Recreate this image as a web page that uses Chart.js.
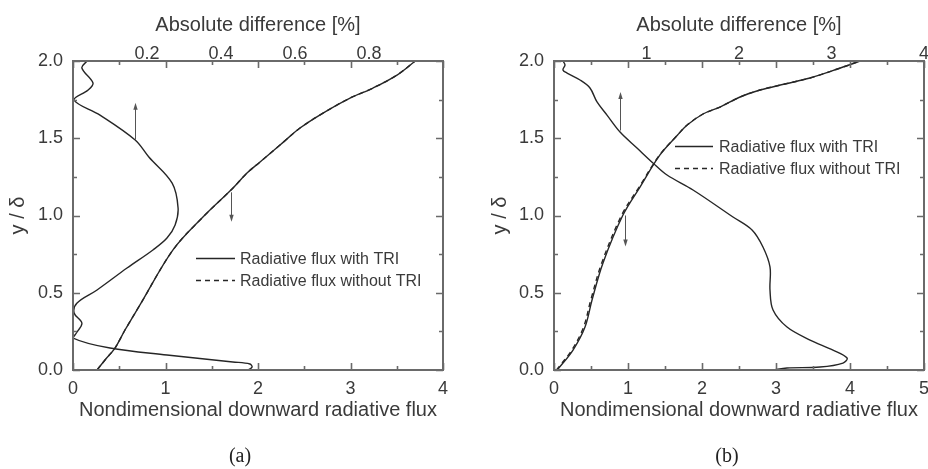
<!DOCTYPE html>
<html>
<head>
<meta charset="utf-8">
<script src="https://cdn.jsdelivr.net/npm/chart.js@4.4.1/dist/chart.umd.min.js"></script>
<style>
  html, body { margin: 0; padding: 0; background: #fff; }
  #wrap { position: relative; width: 928px; height: 469px; overflow: hidden; }
  canvas { position: absolute; top: 0; }
</style>
</head>
<body>
<div id="wrap">
  <canvas id="chartA" width="464" height="469" style="left:0"></canvas>
  <canvas id="chartB" width="464" height="469" style="left:464px"></canvas>
</div>
<script>
  // ---- panel (a) ----
  const fluxA_y = [0.0, 0.065, 0.142, 0.259, 0.421, 0.777, 0.990, 1.178, 1.275, 1.346, 1.456, 1.566,
    1.663, 1.760, 1.825, 1.909, 2.0];
  const fluxA_with = [0.26, 0.346, 0.454, 0.562, 0.724, 1.081, 1.405, 1.730, 1.881, 2.022, 2.238, 2.454,
    2.703, 2.995, 3.243, 3.503, 3.70];
  const fluxA_without = [0.26, 0.346, 0.454, 0.562, 0.724, 1.081, 1.405, 1.730, 1.881, 2.022, 2.238, 2.454,
    2.703, 2.995, 3.243, 3.503, 3.70];

  const diffA_y = [2.0, 1.955, 1.858, 1.812, 1.748, 1.650, 1.489, 1.379, 1.210, 1.049, 0.939,
    0.854, 0.777, 0.660, 0.518, 0.434, 0.369, 0.304, 0.246, 0.207, 0.142, 0.097, 0.052, 0.039, 0.019, 0.0];
  const diffA_pct = [0.038, 0.024, 0.054, 0.041, 0.003, 0.073, 0.168, 0.205, 0.268, 0.284, 0.276,
    0.254, 0.216, 0.146, 0.065, 0.011, 0.003, 0.024, 0.011, 0.0, 0.100, 0.254, 0.432, 0.478, 0.484, 0.473];

  // ---- panel (b) ----
  const fluxB_y = [0.0, 0.006, 0.129, 0.278, 0.453, 0.693, 1.003, 1.184, 1.392, 1.521, 1.586, 1.657,
    1.702, 1.767, 1.812, 1.851, 1.890, 1.948, 2.0];
  const fluxB_with = [0.04, 0.054, 0.257, 0.419, 0.514, 0.662, 0.932, 1.162, 1.432, 1.67, 1.80, 2.014,
    2.243, 2.514, 2.784, 3.12, 3.459, 3.83, 4.135];
  const fluxB_without = [0.03, 0.042, 0.240, 0.400, 0.497, 0.645, 0.915, 1.150, 1.428, 1.67, 1.80, 2.014,
    2.243, 2.514, 2.784, 3.12, 3.459, 3.83, 4.135];

  const diffB_y = [2.0, 1.974, 1.942, 1.922, 1.877, 1.825, 1.735, 1.650, 1.540, 1.437, 1.340, 1.262, 1.165,
    0.990, 0.906, 0.796, 0.667, 0.518, 0.388, 0.278, 0.194, 0.129, 0.078, 0.045, 0.019, 0.013, 0.0];
  const diffB_pct = [0.097, 0.119, 0.097, 0.141, 0.281, 0.389, 0.465, 0.573, 0.714, 0.897, 1.070, 1.222, 1.503,
    1.935, 2.141, 2.259, 2.335, 2.335, 2.368, 2.519, 2.768, 3.016, 3.168, 3.124, 2.876, 2.519, 2.368];

  // ---- ticks ----
  const yTicks = [0, 0.5, 1.0, 1.5, 2.0];
  const yTickLabels = ["0.0", "0.5", "1.0", "1.5", "2.0"];
  const bottomTicksA = [0, 1, 2, 3, 4];
  const topTicksA = [0.2, 0.4, 0.6, 0.8];
  const topTickLabelsA = ["0.2", "0.4", "0.6", "0.8"];
  const bottomTicksB = [0, 1, 2, 3, 4, 5];
  const topTicksB = [1, 2, 3, 4];

  // arrows: which curve goes with which axis (data coords, bottom axis)
  const arrowsA = [{ x: 0.67, from: 1.49, to: 1.73 }, { x: 1.71, from: 1.15, to: 0.96 }];
  const arrowsB = [{ x: 0.89, from: 1.55, to: 1.80 }, { x: 0.96, from: 1.00, to: 0.80 }];

  const LABEL_WITH = "Radiative flux with TRI";
  const LABEL_WITHOUT = "Radiative flux without TRI";

  const TEXT = "#3a3a3a";
  const LINE = "#262626";
  const FRAME = "#6a6a6a";
  const FONT = "'Liberation Sans', Arial, sans-serif";

  Chart.defaults.font.family = FONT;
  Chart.defaults.color = TEXT;

  function pairs(xs, ys) {
    return xs.map((x, i) => ({ x, y: ys[i] }));
  }

  const decor = {
    id: "decor",
    afterDatasetsDraw(chart, args, o) {
      const ctx = chart.ctx;
      const { left, right, top, bottom } = chart.chartArea;
      const xs = chart.scales.x;
      const ys = chart.scales.y;
      ctx.save();

      // frame + inward ticks (top edge mirrors bottom axis)
      ctx.strokeStyle = FRAME;
      ctx.lineWidth = 1.6;
      ctx.beginPath();
      for (let v = xs.min; v <= xs.max + 1e-9; v += 0.5) {
        const px = Math.round(xs.getPixelForValue(v)) + 0.5;
        const len = Math.abs(v - Math.round(v)) < 1e-6 ? 7 : 4;
        ctx.moveTo(px, bottom); ctx.lineTo(px, bottom - len);
        ctx.moveTo(px, top); ctx.lineTo(px, top + len);
      }
      for (let v = ys.min; v <= ys.max + 1e-9; v += 0.25) {
        const py = Math.round(ys.getPixelForValue(v)) + 0.5;
        const len = Math.abs(v * 2 - Math.round(v * 2)) < 1e-6 ? 7 : 4;
        ctx.moveTo(left, py); ctx.lineTo(left + len, py);
        ctx.moveTo(right, py); ctx.lineTo(right - len, py);
      }
      ctx.stroke();
      ctx.lineWidth = 2;
      ctx.strokeRect(left, top, right - left, bottom - top);

      // arrows
      ctx.strokeStyle = "#555";
      ctx.fillStyle = "#555";
      ctx.lineWidth = 1;
      o.arrows.forEach((a) => {
        const px = Math.round(xs.getPixelForValue(a.x)) + 0.5;
        const y0 = ys.getPixelForValue(a.from);
        const y1 = ys.getPixelForValue(a.to);
        const dir = y1 < y0 ? 1 : -1;
        ctx.beginPath();
        ctx.moveTo(px, y0); ctx.lineTo(px, y1 + dir * 5);
        ctx.stroke();
        ctx.beginPath();
        ctx.moveTo(px, y1);
        ctx.lineTo(px - 2.2, y1 + dir * 7);
        ctx.lineTo(px + 2.2, y1 + dir * 7);
        ctx.closePath();
        ctx.fill();
      });

      // legend
      ctx.font = "16px " + FONT;
      ctx.textBaseline = "middle";
      ctx.textAlign = "left";
      const L = o.legend;
      chart.data.datasets
        .filter((d) => d.legendOrder !== undefined)
        .sort((a, b) => a.legendOrder - b.legendOrder)
        .forEach((d, i) => {
          const y = Math.round(L.y + i * L.gap) + 0.5;
          ctx.strokeStyle = LINE;
          ctx.lineWidth = 1.3;
          ctx.setLineDash(d.borderDash || []);
          ctx.beginPath();
          ctx.moveTo(L.x, y); ctx.lineTo(L.x + L.len, y);
          ctx.stroke();
          ctx.setLineDash([]);
          ctx.fillStyle = TEXT;
          ctx.fillText(d.label, L.textX, y + 1);
        });

      // caption
      ctx.font = "20px 'Liberation Serif', 'Times New Roman', serif";
      ctx.fillStyle = "#222";
      ctx.textAlign = "center";
      ctx.fillText(o.caption, o.captionX, 457);
      ctx.restore();
    },
  };

  function makePanel(el, cfg) {
    const lineStyle = { showLine: true, pointRadius: 0, borderColor: LINE, borderWidth: 1.4, tension: 0.35, fill: false };
    const fixTicks = (vals) => (scale) => { scale.ticks = vals.map((v) => ({ value: v })); };
    return new Chart(el, {
      type: "scatter",
      data: {
        datasets: [
          { ...lineStyle, label: LABEL_WITHOUT, legendOrder: 1, data: pairs(cfg.without, cfg.fluxY), xAxisID: "x", borderDash: [5, 4] },
          { ...lineStyle, label: LABEL_WITH, legendOrder: 0, data: pairs(cfg.with, cfg.fluxY), xAxisID: "x" },
          { ...lineStyle, label: "Absolute difference", data: pairs(cfg.diff, cfg.diffY), xAxisID: "x2" },
        ],
      },
      options: {
        responsive: false,
        animation: false,
        events: [],
        layout: { padding: 0 },
        plugins: {
          legend: { display: false },
          tooltip: { enabled: false },
          decor: { arrows: cfg.arrows, legend: cfg.legend, caption: cfg.caption, captionX: cfg.captionX },
        },
        scales: {
          x: {
            type: "linear", position: "bottom", min: 0, max: cfg.xMax,
            grid: { display: false, drawTicks: false }, border: { display: false },
            afterBuildTicks: fixTicks(cfg.bottomTicks),
            ticks: { font: { size: 18 }, padding: 8, autoSkip: false, maxRotation: 0, callback: (v) => String(v) },
            title: { display: true, text: "Nondimensional downward radiative flux", font: { size: 20 }, padding: { top: 0, bottom: 47 } },
            afterFit: (s) => { s.height = 99; s.paddingLeft = 0; s.paddingRight = 0; },
          },
          x2: {
            type: "linear", position: "top", min: 0, max: cfg.x2Max,
            grid: { display: false, drawTicks: false }, border: { display: false },
            afterBuildTicks: fixTicks(cfg.topTicks),
            ticks: { font: { size: 18 }, padding: -4, autoSkip: false, maxRotation: 0,
              callback: (v, i) => cfg.topLabels[i] },
            title: { display: true, text: "Absolute difference [%]", font: { size: 20 }, padding: { top: 13, bottom: 0 } },
            afterFit: (s) => { s.height = 61; s.paddingLeft = 0; s.paddingRight = 0; },
          },
          y: {
            type: "linear", position: "left", min: 0, max: 2,
            grid: { display: false, drawTicks: false }, border: { display: false },
            afterBuildTicks: fixTicks(yTicks),
            ticks: { font: { size: 18 }, padding: 10, autoSkip: false, callback: (v, i) => yTickLabels[i] },
            title: { display: true, text: "y / δ", font: { size: 20 }, padding: { top: cfg.yTitlePad, bottom: 0 } },
            afterFit: (s) => { s.width = cfg.yWidth; s.paddingTop = 0; s.paddingBottom = 0; },
          },
          y2: {
            type: "linear", position: "right", min: 0, max: 2,
            grid: { display: false, drawTicks: false }, border: { display: false },
            ticks: { display: false },
            afterFit: (s) => { s.width = cfg.y2Width; s.paddingTop = 0; s.paddingBottom = 0; },
          },
        },
      },
      plugins: [decor],
    });
  }

  makePanel(document.getElementById("chartA"), {
    fluxY: fluxA_y, with: fluxA_with, without: fluxA_without,
    diffY: diffA_y, diff: diffA_pct,
    xMax: 4, x2Max: 1,
    bottomTicks: bottomTicksA, topTicks: topTicksA, topLabels: topTickLabelsA,
    arrows: arrowsA,
    legend: { x: 196, len: 39, textX: 240, y: 258, gap: 22 },
    caption: "(a)", captionX: 240,
    yWidth: 73, y2Width: 21, yTitlePad: 6,
  });

  makePanel(document.getElementById("chartB"), {
    fluxY: fluxB_y, with: fluxB_with, without: fluxB_without,
    diffY: diffB_y, diff: diffB_pct,
    xMax: 5, x2Max: 4,
    bottomTicks: bottomTicksB, topTicks: topTicksB, topLabels: topTicksB.map(String),
    arrows: arrowsB,
    legend: { x: 211, len: 38, textX: 255, y: 146, gap: 22 },
    caption: "(b)", captionX: 263,
    yWidth: 90, y2Width: 4, yTitlePad: 24,
  });
</script>
</body>
</html>
